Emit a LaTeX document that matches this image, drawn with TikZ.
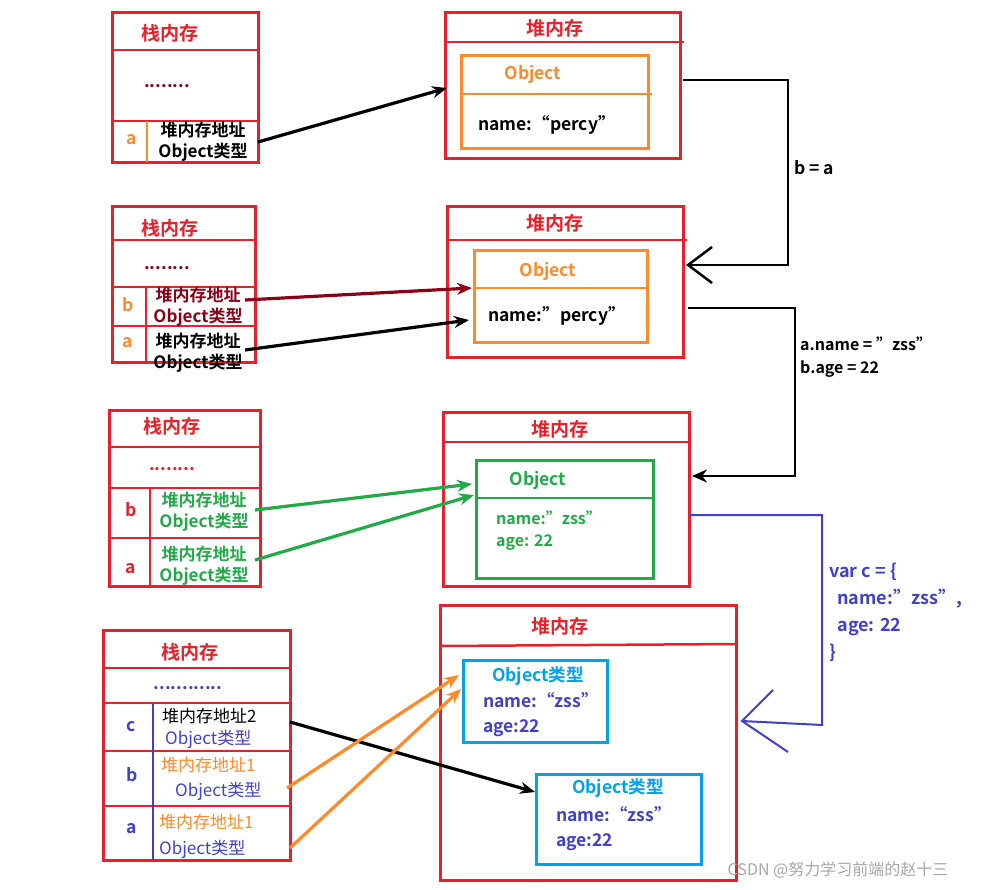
\documentclass[tikz,border=0pt]{standalone}
\usepackage{fontspec}
\setmainfont{Noto Sans CJK SC}[BoldFont={Noto Sans CJK SC Bold}]
\usetikzlibrary{arrows.meta}
\definecolor{rd}{HTML}{E8202A}
\definecolor{og}{HTML}{FF8A2A}
\definecolor{gn}{HTML}{22AA48}
\definecolor{cy}{HTML}{00A2E8}
\definecolor{bl}{HTML}{4040CC}
\definecolor{dr}{HTML}{8B0016}
\begin{document}
\begin{tikzpicture}[x=1pt,y=-1pt,
  box/.style={draw=rd,line width=3pt},
  t/.style={font=\bfseries\fontsize{17.5}{20}\selectfont,inner sep=0pt},
  tt/.style={font=\bfseries\fontsize{19}{22}\selectfont,text=rd,inner sep=0pt},
  two/.style={t,align=center,font=\bfseries\fontsize{17}{21}\selectfont},
  arr/.style={line width=3.2pt,-{Stealth[length=15pt,width=12pt]}}]
\useasboundingbox (0,0) rectangle (987,889);
% ---------- block 1
\draw[box] (112,12) rectangle (258,162);
\draw[rd,line width=2.5pt] (112,50)--(260,50) (112,121)--(258,121);
\draw[og,line width=2pt] (147,121)--(147,162);
\node[tt] (st1) at (170,33) {栈内存};
\node[t,text=dr] (d1) at (167,86) {........};
\node[t,text=og] (a1) at (132,140) {a};
\node[two] (s1a) at (203,142) {堆内存地址\\Object类型};
\draw[box] (445,12) rectangle (680,158);
\draw[rd,line width=2.5pt] (445,42)--(684,42);
\node[tt] (h1) at (555,28) {堆内存};
\draw[og,line width=3pt] (461,55) rectangle (648,148);
\draw[og,line width=2pt] (461,94)--(652,94);
\node[t,text=og] (o1) at (533,74) {Object};
\node[t] (n1) at (547,125) {name:“percy”};
\coordinate (o1in) at (447,88);
\draw[arr] (258,142) -- (o1in);
% connector b = a
\coordinate (c1s) at (683,80);
\coordinate (c1e) at (688,265);
\draw[line width=2.5pt] (c1s) -- (788,80) -- (788,265) -- (c1e);
\draw[line width=2.5pt] (712,247) -- (c1e) -- (712,283);
\node[t,anchor=west] (ba) at (794,168) {b = a};
% ---------- block 2
\draw[box] (112,206) rectangle (255,362);
\draw[rd,line width=2.5pt] (112,240)--(255,240) (112,287)--(255,287) (112,326)--(255,326);
\draw[rd,line width=2pt] (146,287)--(146,362);
\node[tt] (st2) at (170,228) {栈内存};
\node[t,text=dr] (d2) at (167,268) {........};
\node[t,text=og] (b2) at (128,305) {b};
\node[t,text=og] (a2) at (128,343) {a};
\node[two,text=dr] (s2b) at (198,307) {堆内存地址\\Object类型};
\node[two] (s2a) at (198,353) {堆内存地址\\Object类型};
\draw[box] (447,206) rectangle (683,357);
\draw[rd,line width=2.5pt] (447,240)--(687,240);
\node[tt] (h2) at (555,223) {堆内存};
\draw[og,line width=3pt] (474,250) rectangle (647,342);
\draw[og,line width=2pt] (474,288)--(649,288);
\node[t,text=og] (o2) at (548,271) {Object};
\node[t] (n2) at (557,316) {name:"percy"};
\draw[arr,dr] (245,300) -- (472,288);
\draw[arr] (245,350) -- (469,320);
% connector 2
\coordinate (c2s) at (688,308);
\coordinate (c2e) at (692,476);
\draw[line width=2.5pt] (c2s) -- (795,308) -- (795,476) -- (710,476);
\draw[line width=2.5pt,-{Stealth[length=15pt,width=13pt]}] (712,476) -- (c2e);
\node[t,anchor=west,align=left,font=\bfseries\fontsize{16}{23}\selectfont] (lab2) at (800,357) {a.name = "zss"\\b.age = 22};
% ---------- block 3
\draw[box] (109,410) rectangle (260,586);
\draw[rd,line width=2.5pt] (109,447)--(260,447) (109,488)--(260,488) (109,538)--(260,538);
\draw[rd,line width=2pt] (150,488)--(150,586);
\node[tt] (st3) at (172,426) {栈内存};
\node[t,text=rd] (d3) at (172,469) {........};
\node[t,text=rd] (b3) at (131,510) {b};
\node[t,text=rd] (a3) at (131,569) {a};
\node[two,text=gn] (s3b) at (204,512) {堆内存地址\\Object类型};
\node[two,text=gn] (s3a) at (204,566) {堆内存地址\\Object类型};
\draw[box] (443,412) rectangle (689,586);
\draw[rd,line width=2.5pt] (443,442)--(689,442);
\node[tt] (h3) at (560,429) {堆内存};
\draw[gn,line width=3pt] (476,460) rectangle (653,578);
\draw[gn,line width=2pt] (476,498)--(653,498);
\node[t,text=gn] (o3) at (538,480) {Object};
\node[t,text=gn,anchor=west,align=left,font=\bfseries\fontsize{16}{22}\selectfont] (n3) at (496,531) {name:"zss"\\age: 22};
\draw[arr,gn] (255,510) -- (472,484);
\draw[arr,gn] (255,560) -- (474,495);
% connector c
\coordinate (c3s) at (690,515);
\coordinate (c3e) at (742,721);
\draw[bl,line width=2pt] (c3s) -- (822,515) -- (822,725) -- (c3e);
\draw[bl,line width=2pt] (773,690) -- (c3e) -- (788,752);
\node[t,text=bl,anchor=west,align=left,font=\bfseries\fontsize{18}{27}\selectfont] (lab3) at (829,612) {var c = \{\\\ \ name:"zss",\\\ \ age: 22\\\}};
% ---------- block 4
\draw[box] (103,630) rectangle (290,860);
\draw[rd,line width=2.5pt] (103,668)--(290,668) (103,703)--(290,703) (103,751)--(292,751) (103,806)--(290,806);
\draw[bl,line width=2pt] (153,703)--(153,860);
\node[tt] (st4) at (190,652) {栈内存};
\node[t,text=bl] (d4) at (188,688) {............};
\node[t,text=bl] (c4) at (131,727) {c};
\node[t,text=bl] (b4) at (132,775) {b};
\node[t,text=bl] (a4) at (132,829) {a};
\node[t,font=\fontsize{17}{20}\selectfont,anchor=west] (s4c1) at (162,716) {堆内存地址2};
\node[t,font=\fontsize{17}{20}\selectfont,text=bl,anchor=west] (s4c2) at (165,739) {Object类型};
\node[t,font=\fontsize{17}{20}\selectfont,text=og,anchor=west] (s4b1) at (161,765) {堆内存地址1};
\node[t,font=\fontsize{17}{20}\selectfont,text=bl,anchor=west] (s4b2) at (175,791) {Object类型};
\node[t,font=\fontsize{17}{20}\selectfont,text=og,anchor=west] (s4a1) at (159,822) {堆内存地址1};
\node[t,font=\fontsize{17}{20}\selectfont,text=bl,anchor=west] (s4a2) at (159,849) {Object类型};
\draw[box] (440,605) rectangle (736,880);
\draw[rd,line width=2.5pt] (440,646)--(736,644);
\node[tt] (h4) at (560,626) {堆内存};
\draw[cy,line width=3pt] (463,660) rectangle (607,742);
\node[t,text=cy] (o41) at (538,676) {Object类型};
\node[t,text=bl,anchor=west,align=left,font=\bfseries\fontsize{17.5}{25}\selectfont] (n41) at (483,715) {name:“zss”\\age:22};
\draw[cy,line width=3pt] (536,774) rectangle (701,864);
\node[t,text=cy] (o42) at (618,788) {Object类型};
\node[t,text=bl,anchor=west,align=left,font=\bfseries\fontsize{17.5}{25}\selectfont] (n42) at (556,829) {name:“zss”\\age:22};
\draw[arr] (290,722) -- (535,792);
\draw[arr,og] (287,788) -- (459,675);
\draw[arr,og] (290,848) -- (461,689);
\node[text=gray!70,font=\fontsize{16}{18}\selectfont,inner sep=0pt] (wm) at (838,870) {CSDN @努力学习前端的赵十三};
\end{tikzpicture}
\end{document}
